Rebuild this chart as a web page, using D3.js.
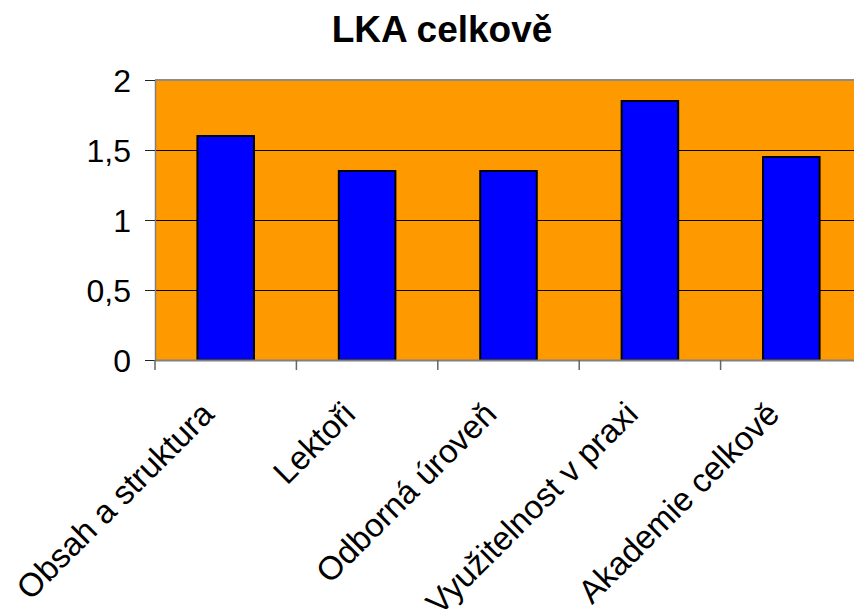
<!DOCTYPE html>
<html>
<head>
<meta charset="utf-8">
<script src="https://cdn.jsdelivr.net/npm/d3@7"></script>
<style>
  body { margin: 0; background: #fff; }
  text { font-family: "Liberation Sans", Arial, sans-serif; fill: #000; }
</style>
</head>
<body>
<svg id="chart"></svg>
<script>
var categories = ["Obsah a struktura", "Lektoři", "Odborná úroveň", "Využitelnost v praxi", "Akademie celkově"];
var values = [1.6, 1.35, 1.35, 1.85, 1.45];
var yTicks = [0, 0.5, 1, 1.5, 2];
var yTickLabels = ["0", "0,5", "1", "1,5", "2"];
var title = "LKA celkově";

var screen = {width: 854, height: 609};
var margins = {left: 155, top: 80, right: -8, bottom: 249};
var graph = {
    width: screen.width - margins.left - margins.right,
    height: screen.height - margins.top - margins.bottom
};

var svg = d3.select("#chart")
    .attr("width", screen.width)
    .attr("height", screen.height);

var target = svg.append("g")
    .attr("transform", "translate(" + margins.left + "," + margins.top + ")");

var xScale = d3.scaleBand()
    .domain(categories)
    .range([0, graph.width])
    .padding(0);

var yScale = d3.scaleLinear()
    .domain([0, 2])
    .range([graph.height, 0]);

// plot area
target.append("rect")
    .attr("x", 0).attr("y", 0)
    .attr("width", graph.width).attr("height", graph.height)
    .attr("fill", "#FF9900");

// gridlines
target.selectAll(".grid")
    .data(yTicks.filter(function(t) { return t > 0 && t < 2; }))
    .enter()
    .append("line")
    .attr("x1", 0).attr("x2", graph.width)
    .attr("y1", function(t) { return Math.round(yScale(t)) + 0.5; })
    .attr("y2", function(t) { return Math.round(yScale(t)) + 0.5; })
    .attr("stroke", "#000")
    .attr("stroke-width", 1);

// top border
target.append("line")
    .attr("x1", 0).attr("x2", graph.width)
    .attr("y1", yScale(2)).attr("y2", yScale(2))
    .attr("stroke", "#8c8c8c").attr("stroke-width", 2);

// bars
var barW = xScale.bandwidth() * 0.4;
target.selectAll(".bar")
    .data(values)
    .enter()
    .append("rect")
    .attr("x", function(d, i) { return xScale(categories[i]) + (xScale.bandwidth() - barW) / 2; })
    .attr("y", function(d) { return yScale(d); })
    .attr("width", barW)
    .attr("height", function(d) { return yScale(0) - yScale(d); })
    .attr("fill", "#0000FF")
    .attr("stroke", "#000")
    .attr("stroke-width", 2);

// y axis
var yAxis = d3.axisLeft(yScale)
    .tickValues(yTicks)
    .tickSize(10)
    .tickSizeOuter(0)
    .tickPadding(14)
    .tickFormat(function(d, i) { return yTickLabels[i]; });

var yG = target.append("g").call(yAxis);
yG.select(".domain").attr("stroke", "#808080").attr("stroke-width", 1.5);
yG.selectAll(".tick line").attr("stroke", "#222");
yG.selectAll("text")
    .style("font-size", "32px")
    .style("font-family", "'Liberation Sans', Arial, sans-serif")
    .attr("dy", "0.36em");

// x axis
var xAxis = d3.axisBottom(xScale)
    .tickSize(0)
    .tickFormat("");
var xG = target.append("g")
    .attr("transform", "translate(0," + graph.height + ")")
    .call(xAxis);
xG.select(".domain").attr("stroke", "#808080").attr("stroke-width", 2);

// category tick marks at band edges
target.selectAll(".xtick")
    .data(categories)
    .enter()
    .append("line")
    .attr("x1", function(c) { return xScale(c); })
    .attr("x2", function(c) { return xScale(c); })
    .attr("y1", graph.height)
    .attr("y2", graph.height + 10)
    .attr("stroke", "#666")
    .attr("stroke-width", 1.5);

// category labels
target.selectAll(".xlabel")
    .data(categories)
    .enter()
    .append("text")
    .text(function(c) { return c; })
    .attr("text-anchor", "end")
    .style("font-size", "33px")
    .attr("transform", function(c) {
        var x = xScale(c) + xScale.bandwidth() / 2 - 10;
        return "translate(" + x + "," + (graph.height + 56) + ") rotate(-45)";
    });

// title
svg.append("text")
    .text(title)
    .attr("x", 442)
    .attr("y", 42)
    .attr("text-anchor", "middle")
    .style("font-size", "37px")
    .style("font-weight", "bold");
</script>
</body>
</html>
